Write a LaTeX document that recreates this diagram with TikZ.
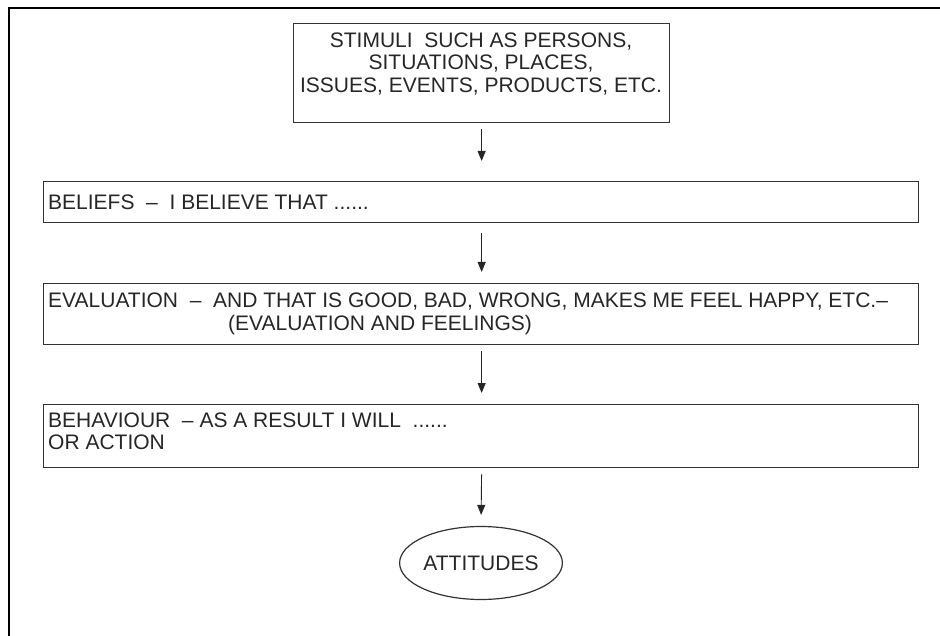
\documentclass[tikz,border=0pt]{standalone}
\usepackage{fontspec}
\setmainfont{Liberation Sans}
\usetikzlibrary{arrows.meta,shapes.geometric}
\begin{document}
\begin{tikzpicture}[x=1pt,y=-1pt,
  frame/.style={line width=2pt, black},
  stagebox/.style={draw=black!80, line width=1.3pt, rectangle, inner sep=0pt, anchor=north west},
  caption/.style={font=\fontsize{21}{23}\selectfont, text=black!85, inner sep=0pt, anchor=base west},
  flow/.style={draw=black!85, line width=0.9pt, -{Triangle[length=10pt,width=8pt]}},
]
\useasboundingbox (0,0) rectangle (940,636);

% open frame: top and left edges only
\draw[frame] (8.5,636) -- (8.5,8.5) -- (940,8.5);

% boxes
\node[stagebox, minimum width=376pt, minimum height=99pt] (stim) at (293,23) {};
\node[stagebox, minimum width=875pt, minimum height=41pt] (bel) at (43,181) {};
\node[stagebox, minimum width=875pt, minimum height=61pt] (eval) at (43,283) {};
\node[stagebox, minimum width=875pt, minimum height=63pt] (behav) at (43,404) {};
\node[draw=black!80, line width=1.2pt, ellipse, minimum width=158pt, minimum height=73pt,
      inner sep=0pt, font=\fontsize{21}{23}\selectfont, text=black!85] (att) at (481,563) {ATTITUDES};

% texts
\node[caption, anchor=base] (s1) at (481,47.5) {STIMULI\ \ SUCH AS PERSONS,};
\node[caption, anchor=base] (s2) at (481,69.5) {SITUATIONS, PLACES,};
\node[caption, anchor=base] (s3) at (481,92.5) {ISSUES, EVENTS, PRODUCTS, ETC.};

\node[caption] (b1) at (48,209.5) {BELIEFS\ \ –\ \ I BELIEVE THAT ......};

\node[caption] (e1) at (48,307.5) {EVALUATION\ \ –\ \ AND THAT IS GOOD, BAD, WRONG, MAKES ME FEEL HAPPY, ETC.–};
\node[caption] (e2) at (228,330.5) {(EVALUATION AND FEELINGS)};

\node[caption] (h1) at (48,427.5) {BEHAVIOUR\ \ – AS A RESULT I WILL\ \ ......};
\node[caption] (h2) at (48,449.5) {OR ACTION};

% connectors
\draw[flow, shorten <=6pt, shorten >=20pt] (stim.south) -- (stim.south |- bel.north);
\draw[flow, shorten <=10pt, shorten >=11pt] (stim.south |- bel.south) -- (stim.south |- eval.north);
\draw[flow, shorten <=6pt, shorten >=11pt] (stim.south |- eval.south) -- (stim.south |- behav.north);
\draw[flow, shorten <=6pt, shorten >=11pt] (stim.south |- behav.south) -- (att.north);
\end{tikzpicture}
\end{document}
